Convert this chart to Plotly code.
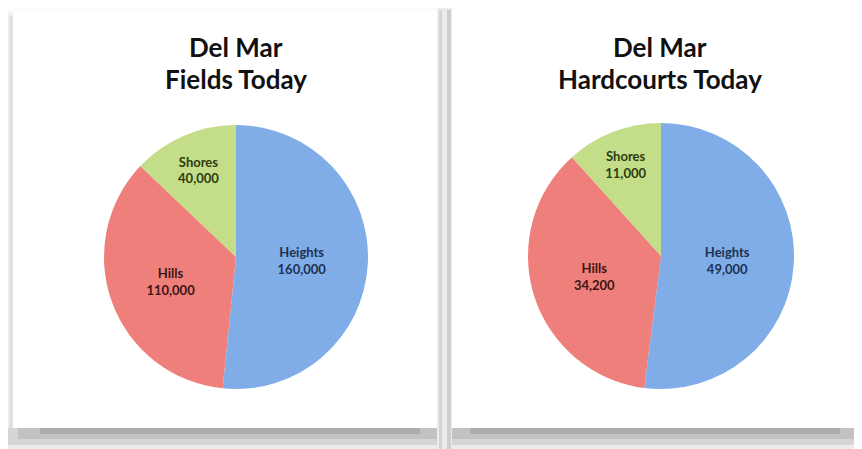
import plotly.graph_objects as go

# page is 862x449; the html body has an 8px margin, so the figure is 854x441
PAGE_W, PAGE_H = 862, 449
OFF = 8
FW, FH = PAGE_W - OFF, PAGE_H - OFF

categories = ["Heights", "Hills", "Shores"]
fields_values = [160000, 110000, 40000]
hardcourts_values = [49000, 34200, 11000]
titles = [("Del Mar", "Fields Today"), ("Del Mar", "Hardcourts Today")]

slice_colors = ["#80ade7", "#ee7f7a", "#c4dd88"]
text_colors = ["#1d3150", "#3e1515", "#2e3b12"]


def px_x(x):
    return (x - OFF) / FW


def px_y(y):
    return 1 - (y - OFF) / FH


fig = go.Figure()


def add_pie(values, cx, cy, r):
    fig.add_trace(go.Pie(
        labels=categories,
        values=values,
        sort=False,
        direction="clockwise",
        rotation=0,
        marker=dict(colors=slice_colors, line=dict(width=0)),
        texttemplate="<b>%{label}<br>%{value:,}</b>",
        textposition="inside",
        insidetextorientation="horizontal",
        insidetextfont=dict(family="Lato", size=13, color=text_colors),
        hoverinfo="label+value",
        showlegend=False,
        domain=dict(x=[px_x(cx - r), px_x(cx + r)], y=[px_y(cy + r), px_y(cy - r)]),
    ))


add_pie(fields_values, 236, 257, 132)
add_pie(hardcourts_values, 661, 256, 133)

shapes = []


def rect(x0, y0, x1, y1, color):
    shapes.append(dict(type="rect", xref="paper", yref="paper",
                       x0=px_x(x0), x1=px_x(x1), y0=px_y(y1), y1=px_y(y0),
                       fillcolor=color, line=dict(width=0), layer="below"))


# bottom shadow (layered grays)
rect(0, 428, PAGE_W, 449, "#ececec")
rect(6, 428, PAGE_W, 445, "#d6d6d6")
rect(18, 428, PAGE_W, 439, "#c2c2c2")
rect(40, 428, 420, 434, "#adadad")
rect(470, 428, 840, 434, "#adadad")
# left edge shadow
rect(6, 12, 13, 428, "#f0f0f0")
rect(9, 16, 13, 428, "#e2e2e2")
# middle gap shadows
rect(437, 6, 452, 449, "#ececec")
rect(439, 10, 442, 449, "#d4d4d4")
rect(447, 10, 451, 449, "#cfcfcf")
# cards
rect(13, 12, 437, 428, "#ffffff")
rect(452, 8, PAGE_W, 428, "#ffffff")

annotations = []
for (l1, l2), cx in zip(titles, [236, 660]):
    annotations.append(dict(text="<b>%s</b>" % l1, x=px_x(cx), y=px_y(47), xref="paper", yref="paper",
                            showarrow=False, xanchor="center", yanchor="middle",
                            font=dict(family="Lato", size=26, color="#111111")))
    annotations.append(dict(text="<b>%s</b>" % l2, x=px_x(cx), y=px_y(79), xref="paper", yref="paper",
                            showarrow=False, xanchor="center", yanchor="middle",
                            font=dict(family="Lato", size=26, color="#111111")))

fig.update_layout(
    width=FW, height=FH,
    margin=dict(l=0, r=0, t=0, b=0),
    paper_bgcolor="#fbfbfb",
    plot_bgcolor="#fbfbfb",
    shapes=shapes,
    annotations=annotations,
)

fig.write_html("out.html")
